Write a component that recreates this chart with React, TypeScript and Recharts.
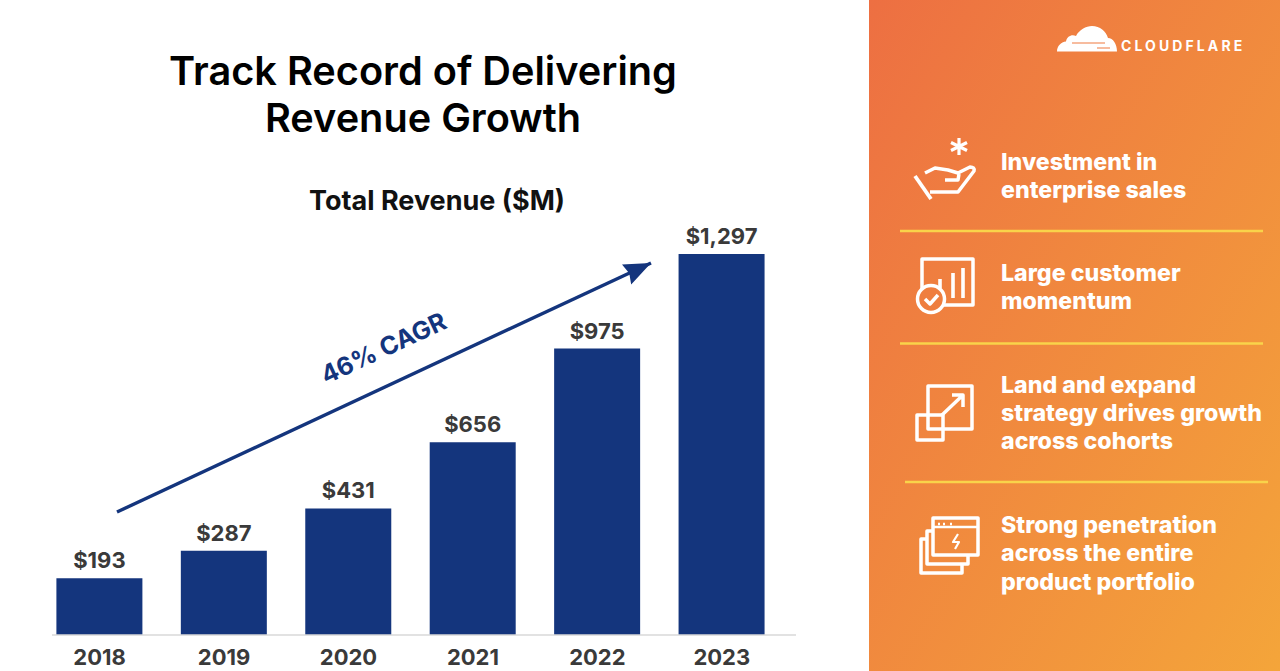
import React from "react";
import { BarChart, Bar, XAxis, YAxis, LabelList } from "recharts";

const years = ["2018", "2019", "2020", "2021", "2022", "2023"];
const revenue = [193, 287, 431, 656, 975, 1297];
const titleLines = ["Track Record of Delivering", "Revenue Growth"];
const chartTitle = "Total Revenue ($M)";
const cagrLabel = "46% CAGR";
const brand = "CLOUDFLARE";
const points = [
  ["Investment in", "enterprise sales"],
  ["Large customer", "momentum"],
  ["Land and expand", "strategy drives growth", "across cohorts"],
  ["Strong penetration", "across the entire", "product portfolio"],
];
const pointBaselines = [
  [170, 198],
  [281, 309],
  [393, 421, 449],
  [533, 561, 590],
];

const rows = years.map((year, i) => ({ year, revenue: revenue[i] }));
const FONT = "Inter, 'Noto Sans', sans-serif";
const NAVY = "#14357d";
const INK = "#3a3a3a";

const icon = { fill: "none", stroke: "#fff", strokeWidth: 3.5, strokeLinejoin: "round" as const };

export default function App() {
  return (
    <div style={{ position: "absolute", left: 0, top: 0, width: 1280, height: 671, overflow: "hidden", background: "#fff", fontFamily: FONT }}>
      <svg width={1280} height={671} style={{ position: "absolute", left: 0, top: 0 }}>
        <defs>
          <linearGradient id="panel" x1="0" y1="0" x2="1" y2="1">
            <stop offset="0" stopColor="#ed6f42" />
            <stop offset="1" stopColor="#f4a53a" />
          </linearGradient>
          <marker id="head" markerUnits="userSpaceOnUse" markerWidth="30" markerHeight="24" refX="27" refY="11" orient="auto">
            <path d="M0 0 L27 11 L0 22 L3 11 Z" fill={NAVY} />
          </marker>
        </defs>
        <rect x={869} y={0} width={411} height={671} fill="url(#panel)" />
      </svg>

      <div style={{ position: "absolute", left: 0, top: 0 }}>
        <BarChart width={1280} height={671} data={rows} margin={{ top: 254, left: 52, right: 484, bottom: 0 }}>
          <XAxis
            dataKey="year"
            height={36}
            padding={{ left: -14.6, right: 12 }}
            axisLine={{ stroke: "#d8d8d8", strokeWidth: 1.5 }}
            tickLine={false}
            interval={0}
            tickMargin={8}
            tick={{ fill: INK, fontSize: 22, fontWeight: 700, fontFamily: FONT }}
          />
          <YAxis hide domain={[0, 1297]} />
          <Bar dataKey="revenue" fill={NAVY} barSize={86} isAnimationActive={false}>
            <LabelList
              dataKey="revenue"
              position="top"
              offset={10}
              formatter={(v: number) => "$" + v.toLocaleString("en-US")}
              style={{ fill: INK, fontSize: 22, fontWeight: 700, fontFamily: FONT }}
            />
          </Bar>
        </BarChart>
      </div>

      <svg width={1280} height={671} style={{ position: "absolute", left: 0, top: 0, pointerEvents: "none" }}>
        {titleLines.map((line, i) => (
          <text key={line} x={423} y={84.5 + i * 47} textAnchor="middle" fontSize={39.7} fontWeight={600} fill="#000">
            {line}
          </text>
        ))}
        <text x={437} y={210} textAnchor="middle" fontSize={27} fontWeight={700} fill="#111">
          {chartTitle}
        </text>

        <line x1={117} y1={512} x2={651} y2={263} stroke={NAVY} strokeWidth={3.4} markerEnd="url(#head)" />
        <text x={383} y={357} textAnchor="middle" fontSize={25} fontWeight={700} fill={NAVY} transform="rotate(-25 383 347)">
          {cagrLabel}
        </text>

        {/* logo */}
        <path d="M1057 51.5 C1057 46 1061 42 1066 41.5 C1067 36 1072 34 1076 36 C1079 30 1086 26 1092 26 C1100 26 1106 31 1108 38 C1113 38 1117 44 1117 51.5 Z" fill="#fff" />
        <path d="M1072 43 L1105 43 M1097 48 L1110 48" stroke="#ef7b40" strokeWidth={1.2} fill="none" />
        <text x={1121} y={51} fontSize={14} fontWeight={700} fill="#fff" letterSpacing={3.1}>
          {brand}
        </text>

        {/* separators */}
        <g stroke="#f9d34a" strokeWidth={2.5}>
          <line x1={900} y1={231} x2={1263} y2={231} />
          <line x1={900} y1={343.5} x2={1263} y2={343.5} />
          <line x1={905} y1={482} x2={1268} y2={482} />
        </g>

        {points.map((linesOfPoint, i) =>
          linesOfPoint.map((line, j) => (
            <text key={line} x={1001} y={pointBaselines[i][j]} fontSize={23.2} fontWeight={800} fill="#fff">
              {line}
            </text>
          ))
        )}

        {/* hand */}
        <g {...icon}>
          <path d="M915 176 L931 199" strokeWidth={3.8} />
          <path d="M925 173 L935 168 L948 170 L958 173 L970 167 Q975 167 974 171 L958 192 L930 192" />
          <path d="M945 180 L958 180 L959 174" />
          <path d="M959 138 L959 155 M951 142.5 L967 150.5 M967 142.5 L951 150.5" strokeWidth={3.2} />
        </g>

        {/* chart with check */}
        <g {...icon}>
          <rect x={922} y={259} width={51} height={46} />
          <path d="M940 279 V288 M953 273 V298 M963 268 V298" strokeWidth={3.6} />
          <circle cx={931} cy={299} r={13.5} fill="#ef7e3f" />
          <path d="M925 299 L930 304 L938 295" />
        </g>

        {/* expand */}
        <g {...icon}>
          <rect x={928} y={386} width={44} height={43} />
          <rect x={917} y={415} width={26} height={25} />
          <path d="M942 415 L963 395 M952 395 H963 V407" />
        </g>

        {/* windows */}
        <g {...icon}>
          <rect x={933} y={518} width={45} height={37} />
          <path d="M933 527 H978" strokeWidth={2.6} />
          <path d="M933 531 H927 V564 H968 V555" />
          <path d="M927 539 H921 V573 H962 V564" />
          <path d="M938 524 H940 M943 524 H945 M950 524 H952" strokeWidth={2.4} />
          <path d="M958 534 L953 542 H959 L955 549" strokeWidth={2.2} />
        </g>
      </svg>
    </div>
  );
}
